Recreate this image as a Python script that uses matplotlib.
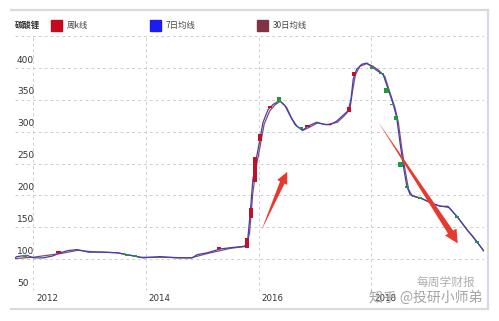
import matplotlib.pyplot as plt
from matplotlib.patches import Rectangle, FancyArrowPatch
from matplotlib.lines import Line2D

plt.rcParams['font.family'] = ['Noto Sans CJK SC', 'DejaVu Sans']

# 7日均线 (decimal year, price index)
ma7_dates = [2011.68, 2011.71, 2011.80, 2011.89, 2012.01, 2012.18, 2012.35, 2012.48, 2012.62,
             2012.78, 2012.89, 2012.98, 2013.24, 2013.49, 2013.67, 2013.85, 2013.95, 2014.25,
             2014.56, 2014.82, 2014.91, 2015.09, 2015.32, 2015.50, 2015.73, 2015.80, 2015.85,
             2015.90, 2015.97, 2016.03, 2016.08, 2016.17, 2016.26, 2016.37, 2016.47, 2016.56,
             2016.65, 2016.74, 2016.79, 2016.88, 2017.03, 2017.15, 2017.27, 2017.39, 2017.50,
             2017.59, 2017.64, 2017.68, 2017.74, 2017.83, 2017.92, 2018.01, 2018.12, 2018.21,
             2018.30, 2018.39, 2018.45, 2018.51, 2018.57, 2018.63, 2018.69, 2018.87, 2019.10,
             2019.22, 2019.36, 2019.52, 2019.70, 2019.78, 2019.87, 2019.96, 2019.99]
ma7_values = [102, 104, 105, 106, 102, 102, 105, 110, 113.5,
              115, 113, 111, 111, 110, 107, 104, 102, 104,
              102, 102, 107, 110, 116, 118, 120, 123, 170,
              225, 262, 291, 315, 335, 343, 349, 341, 325,
              311, 305, 303, 309, 315, 312, 311, 317, 326,
              333, 351, 383, 398, 406, 408, 402, 395, 390,
              367, 343, 323, 283, 246, 215, 201, 196, 187,
              183, 183, 167, 146, 138, 128, 117, 113]

# 30日均线
ma30_dates = [2011.68, 2012.00, 2012.50, 2012.80, 2013.00, 2013.50, 2013.90, 2014.30, 2014.80,
              2015.10, 2015.50, 2015.78, 2015.84, 2015.90, 2015.97, 2016.04, 2016.10, 2016.20,
              2016.30, 2016.39, 2016.50, 2016.59, 2016.68, 2016.78, 2016.90, 2017.05, 2017.20,
              2017.40, 2017.52, 2017.62, 2017.67, 2017.72, 2017.80, 2017.92, 2018.03, 2018.14,
              2018.24, 2018.33, 2018.42, 2018.48, 2018.54, 2018.60, 2018.66, 2018.73, 2018.90,
              2019.12, 2019.25, 2019.38, 2019.55, 2019.72, 2019.82, 2019.90, 2019.99]
ma30_values = [101, 103, 109, 114, 112, 110, 103, 103, 102,
               109, 117, 120, 140, 205, 250, 283, 312, 333,
               343, 348, 338, 321, 309, 302, 307, 314, 311,
               315, 325, 335, 365, 390, 403, 407, 403, 396,
               387, 362, 338, 315, 275, 240, 210, 199, 195,
               186, 183, 181, 164, 144, 133, 124, 114]

# 周k线 (date, open, close)
k_dates = [2011.86, 2012.45, 2013.67, 2013.81, 2015.30, 2015.79, 2015.87, 2015.94, 2016.03,
           2016.20, 2016.37, 2016.76, 2016.87, 2017.27, 2017.61, 2017.70, 2018.01, 2018.18,
           2018.27, 2018.37, 2018.44, 2018.52, 2018.64, 2018.87, 2019.52, 2019.88]
k_open = [106, 110, 108, 106, 116, 118, 165, 221, 286,
          338, 355, 308, 308, 310, 331, 388, 401, 393,
          368, 344, 325, 252, 215, 198, 168, 129]
k_close = [104, 112, 106, 104, 118, 134, 181, 260, 296,
           340, 347, 305, 310, 312, 339, 394, 399, 391,
           361, 342, 318, 245, 213, 194, 165, 126]

y_ticks = [50, 100, 150, 200, 250, 300, 350, 400]
x_years = [2012, 2014, 2016, 2018]

W, H = 499, 321
fig = plt.figure(figsize=(W / 100, H / 100), dpi=100)
fig.patch.set_facecolor('white')


def px(x, y):
    return x / W, 1 - y / H


# outer frame (top, right, bottom)
frame = '#d6dae2'
fig.add_artist(Line2D([11 / W, 488 / W], [1 - 10 / H, 1 - 10 / H], color=frame, lw=1.6))
fig.add_artist(Line2D([488 / W, 488 / W], [1 - 10 / H, 1 - 309 / H], color=frame, lw=1.6))
fig.add_artist(Line2D([11 / W, 488 / W], [1 - 309 / H, 1 - 309 / H], color=frame, lw=1.6))

ax = fig.add_axes([15 / W, (H - 291) / H, 469 / W, 256 / H])
ax.set_xlim(2011.68, 2020.0)
ax.set_ylim(50, 452)
for s in ax.spines.values():
    s.set_visible(False)

ax.set_yticks(y_ticks + [450])
ax.set_xticks(x_years)
ax.tick_params(length=0, labelleft=False, labelbottom=False)
ax.grid(True, color='#cfcfcf', lw=0.7, ls=(0, (3, 3)))
ax.set_axisbelow(True)

for v in y_ticks:
    ax.annotate(str(v), xy=(0.004, v), xycoords=('axes fraction', 'data'),
                xytext=(0, 2.5), textcoords='offset points', ha='left', va='bottom',
                fontsize=6.5, color='#333333', family='DejaVu Sans')
for yr in x_years:
    ax.annotate(str(yr), xy=(yr, 0), xycoords=('data', 'axes fraction'),
                xytext=(2.2, -2.5), textcoords='offset points', ha='left', va='top',
                fontsize=6.2, color='#333333', family='DejaVu Sans')

# moving averages
ax.plot(ma30_dates, ma30_values, color='#8a4a68', lw=0.9, zorder=3)
ax.plot(ma7_dates, ma7_values, color='#4040b4', lw=0.9, zorder=4)

# weekly candles
for d, o, c in zip(k_dates, k_open, k_close):
    col = '#c0102a' if c >= o else '#1f9a3a'
    h = c - o
    if abs(h) < 2.5:
        h = 2.5 if h >= 0 else -2.5
    ax.bar(d, h, bottom=o, width=0.075, color=col, zorder=5, linewidth=0)


# red tapered arrows: wedge shaft + head
def red_arrow(tail, neck, tip, shaft_w, head_w, scale):
    ax.add_patch(FancyArrowPatch(neck, tail, arrowstyle=f"wedge,tail_width={shaft_w},shrink_factor=0.5",
                                 mutation_scale=scale, color='#e8392f', lw=0, zorder=6))
    ax.add_patch(FancyArrowPatch(neck, tip,
                                 arrowstyle=f"simple,head_length=1.2,head_width={head_w},tail_width=0.01",
                                 mutation_scale=scale, color='#e8392f', lw=0, zorder=6))


red_arrow((2016.03, 141), (2016.46, 228), (2016.53, 241), 0.55, 1.15, 7)
red_arrow((2018.09, 320), (2019.47, 134), (2019.56, 121), 0.55, 1.2, 8)

# legend
fig.text(*px(15, 25), '碳酸锂', fontsize=6, fontweight='bold', color='#333333', va='center')
legend_items = [(51, '#c40a1c', '周k线'), (150, '#1c1cf0', '7日均线'), (257, '#7e3444', '30日均线')]
for x0, col, lab in legend_items:
    fig.add_artist(Rectangle(px(x0, 31), 11 / W, 11 / H, color=col, transform=fig.transFigure))
    fig.text(*px(x0 + 16, 25), lab, fontsize=6, color='#444444', va='center')

# watermark
fig.text(*px(446, 282), '每周学财报', fontsize=8.5, color='#a8a8a8', ha='center', va='center', alpha=0.9)
fig.text(*px(426, 298), '知乎 @投研小师弟', fontsize=10, color='#9a9a9a', ha='center', va='center', alpha=0.9)

fig.savefig('out.png', dpi=100)
